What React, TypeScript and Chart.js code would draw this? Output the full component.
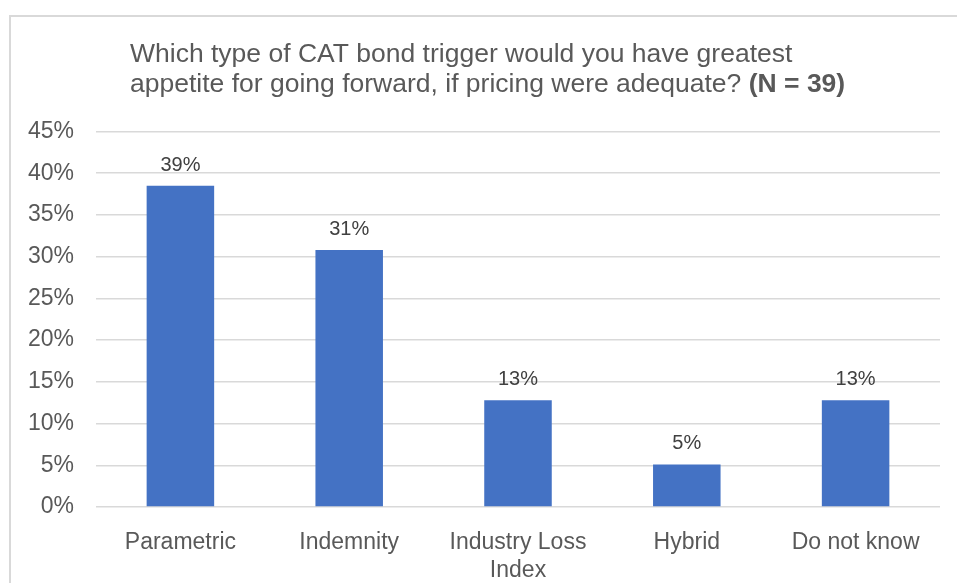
import React, { useEffect, useRef } from "react";
import { Chart, registerables } from "chart.js";

Chart.register(...registerables);

const categories: (string | string[])[] = ["Parametric", "Indemnity", ["Industry Loss", "Index"], "Hybrid", "Do not know"];
const shares: number[] = [38.5, 30.8, 12.8, 5.1, 12.8];
const yTicks: number[] = [0, 5, 10, 15, 20, 25, 30, 35, 40, 45];
const titleLine1 = "Which type of CAT bond trigger would you have greatest";
const titleLine2 = "appetite for going forward, if pricing were adequate? ";
const titleBold = "(N = 39)";

const FONT = "'Liberation Sans', Arial, sans-serif";

const decorPlugin = {
  id: "decor",
  beforeDraw(chart: any) {
    const ctx = chart.ctx;
    ctx.save();
    ctx.fillStyle = "#ffffff";
    ctx.fillRect(0, 0, chart.width, chart.height);
    ctx.strokeStyle = "#d9d9d9";
    ctx.lineWidth = 2;
    ctx.beginPath();
    ctx.moveTo(10, chart.height);
    ctx.lineTo(10, 16);
    ctx.lineTo(chart.width, 16);
    ctx.stroke();
    ctx.restore();
  },
  afterDraw(chart: any) {
    const ctx = chart.ctx;
    ctx.save();
    ctx.fillStyle = "#595959";
    ctx.textBaseline = "alphabetic";
    ctx.textAlign = "left";
    ctx.font = `26.5px ${FONT}`;
    ctx.fillText(titleLine1, 130, 62);
    ctx.fillText(titleLine2, 130, 92);
    const w = ctx.measureText(titleLine2).width;
    ctx.font = `bold 26.5px ${FONT}`;
    ctx.fillText(titleBold, 130 + w, 92);
    ctx.restore();
  },
  afterDatasetsDraw(chart: any) {
    const ctx = chart.ctx;
    const meta = chart.getDatasetMeta(0);
    ctx.save();
    ctx.fillStyle = "#404040";
    ctx.font = `20px ${FONT}`;
    ctx.textAlign = "center";
    ctx.textBaseline = "alphabetic";
    meta.data.forEach((bar: any, i: number) => {
      ctx.fillText(`${Math.round(shares[i])}%`, bar.x, bar.y - 15);
    });
    ctx.restore();
  },
};

export default function App() {
  const ref = useRef<HTMLCanvasElement | null>(null);
  useEffect(() => {
    if (!ref.current) return;
    const chart = new Chart(ref.current, {
      type: "bar",
      data: {
        labels: categories as any,
        datasets: [
          {
            data: shares,
            backgroundColor: "#4472C4",
            borderWidth: 0,
            barPercentage: 0.4,
            categoryPercentage: 1,
          },
        ],
      },
      options: {
        animation: false,
        responsive: false,
        maintainAspectRatio: false,
        layout: { padding: { top: 131.5, right: 17, bottom: 0, left: 0 } },
        plugins: {
          legend: { display: false },
          tooltip: { enabled: false },
          title: { display: false },
        },
        scales: {
          x: {
            grid: { display: false },
            border: { display: false },
            ticks: {
              color: "#595959",
              font: { family: FONT, size: 23, lineHeight: 1.24 },
              padding: 13,
              maxRotation: 0,
              autoSkip: false,
            },
            afterFit: (s: any) => {
              s.height = 76;
            },
          },
          y: {
            min: 0,
            max: 45,
            afterBuildTicks: (s: any) => {
              s.ticks = yTicks.map((v) => ({ value: v }));
            },
            grid: { color: "#d9d9d9", lineWidth: 1.5, drawTicks: false },
            border: { display: false },
            ticks: {
              color: "#595959",
              font: { family: FONT, size: 23 },
              padding: 22,
              callback: (v: any) => `${v}%`,
            },
            afterFit: (s: any) => {
              s.width = 96;
            },
          },
        },
      },
      plugins: [decorPlugin],
    });
    return () => chart.destroy();
  }, []);
  return (
    <div style={{ position: "fixed", left: 0, top: 0, width: 957, height: 583, background: "#fff" }}>
      <canvas ref={ref} width={957} height={583} style={{ display: "block", width: 957, height: 583 }} />
    </div>
  );
}
